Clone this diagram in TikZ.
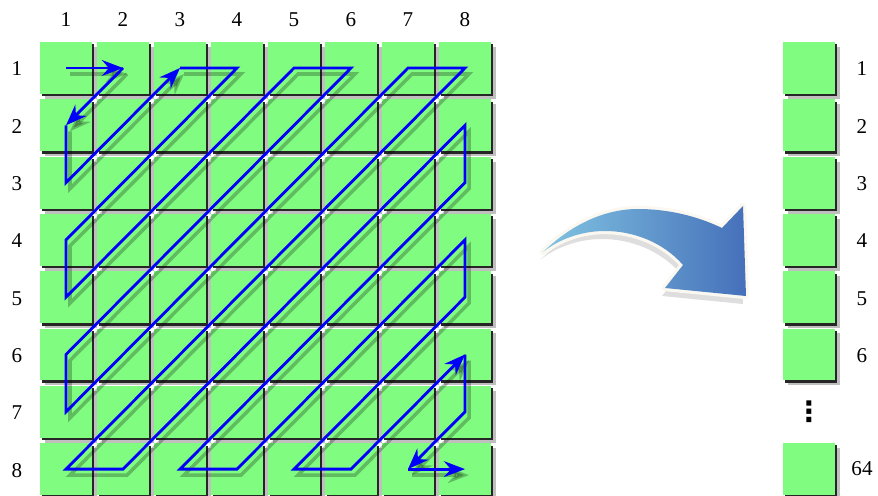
\documentclass[tikz,border=0pt]{standalone}
\usepackage{fontspec}
\setmainfont{Liberation Serif}
\newfontfamily\symfont{DejaVu Sans}
\usetikzlibrary{arrows.meta}

\definecolor{cellgreen}{RGB}{128,252,128}
\definecolor{pathblue}{RGB}{0,0,250}
\definecolor{arrowlight}{RGB}{128,196,226}
\definecolor{arrowdark}{RGB}{70,112,186}
\definecolor{arrowrim}{RGB}{250,248,240}

% zig-zag scan through the 8x8 block, drawn once for the shadow and once in blue
\newcommand{\zigzag}[1]{%
  \draw[#1,arrowed] (sq-1-1.center) -- (sq-1-2.center);
  \draw[#1,arrowed] (sq-1-2.center) -- (sq-2-1.center);
  \draw[#1,arrowed] (sq-2-1.center) -- (sq-3-1.center) -- (sq-1-3.center);
  \draw[#1,arrowed] (sq-1-3.center) -- (sq-1-4.center) -- (sq-4-1.center) -- (sq-5-1.center)
    -- (sq-1-5.center) -- (sq-1-6.center) -- (sq-6-1.center) -- (sq-7-1.center)
    -- (sq-1-7.center) -- (sq-1-8.center) -- (sq-8-1.center) -- (sq-8-2.center)
    -- (sq-2-8.center) -- (sq-3-8.center) -- (sq-8-3.center) -- (sq-8-4.center)
    -- (sq-4-8.center) -- (sq-5-8.center) -- (sq-8-5.center) -- (sq-8-6.center)
    -- (sq-6-8.center);
  \draw[#1,arrowed] (sq-6-8.center) -- (sq-7-8.center) -- (sq-8-7.center);
  \draw[#1,arrowed] (sq-8-7.center) -- (sq-8-8.center);
}

\def\bigarrowpath{(543,252) .. controls (572,224) and (605,209) .. (638,209)
  .. controls (668,209) and (697,216) .. (722,228) -- (743,206) -- (746,296)
  -- (665,288) -- (683,265) .. controls (663,242) and (633,231) .. (605,231)
  .. controls (580,231) and (558,240) .. (543,252) -- cycle}

\begin{document}
\begin{tikzpicture}[x=0.02cm, y=-0.02cm,
    cell/.style={rectangle, fill=cellgreen, inner sep=0pt, minimum size=1.04cm,
      preaction={fill=black!25, transform canvas={shift={(2.8pt,-2.8pt)}}},
      preaction={fill=black!85, transform canvas={shift={(1.4pt,-1.4pt)}}}},
    num/.style={font=\fontsize{12}{14}\selectfont, inner sep=1pt},
    arrowed/.style={-{Stealth[length=12pt, width=9pt, inset=4pt]}},
    blueline/.style={pathblue, line width=1.6pt},
    shadowline/.style={black, opacity=.25, line width=2pt}
]
\fill[white] (0,0) rectangle (878,496);
\useasboundingbox (0,0) rectangle (878,496);

% input block
\foreach \r in {1,...,8}
  \foreach \c in {1,...,8}
    \node[cell] (sq-\r-\c) at ({66+57*(\c-1)},{68+57.3*(\r-1)}) {};
\foreach \c in {1,...,8}
  \node[num] (col-\c) at ({66+57*(\c-1)},20) {\c};
\foreach \r in {1,...,8}
  \node[num] (row-\r) at (17,{69+57.3*(\r-1)}) {\r};

\begin{scope}[transform canvas={shift={(4,6)}}]
  \zigzag{shadowline}
\end{scope}
\zigzag{blueline}

% curved arrow
\fill[black, opacity=.13] [transform canvas={shift={(-3,8)}}] \bigarrowpath;
\filldraw[draw=arrowrim, fill=arrowrim, line width=3.6pt, line join=round] \bigarrowpath;
\shade[left color=arrowlight, right color=arrowdark] \bigarrowpath;

% output column
\foreach \r in {1,...,6} {
  \node[cell] (out-\r) at (809,{68+57.3*(\r-1)}) {};
  \node[num] (outnum-\r) at (862,{69+57.3*(\r-1)}) {\r};
}
\node[num, font=\symfont\bfseries\fontsize{16}{18}\selectfont] (dots) at (809,412) {⋮};
\node[cell] (out-64) at (809,469) {};
\node[num] (outnum-64) at (862,469) {64};
\end{tikzpicture}
\end{document}
